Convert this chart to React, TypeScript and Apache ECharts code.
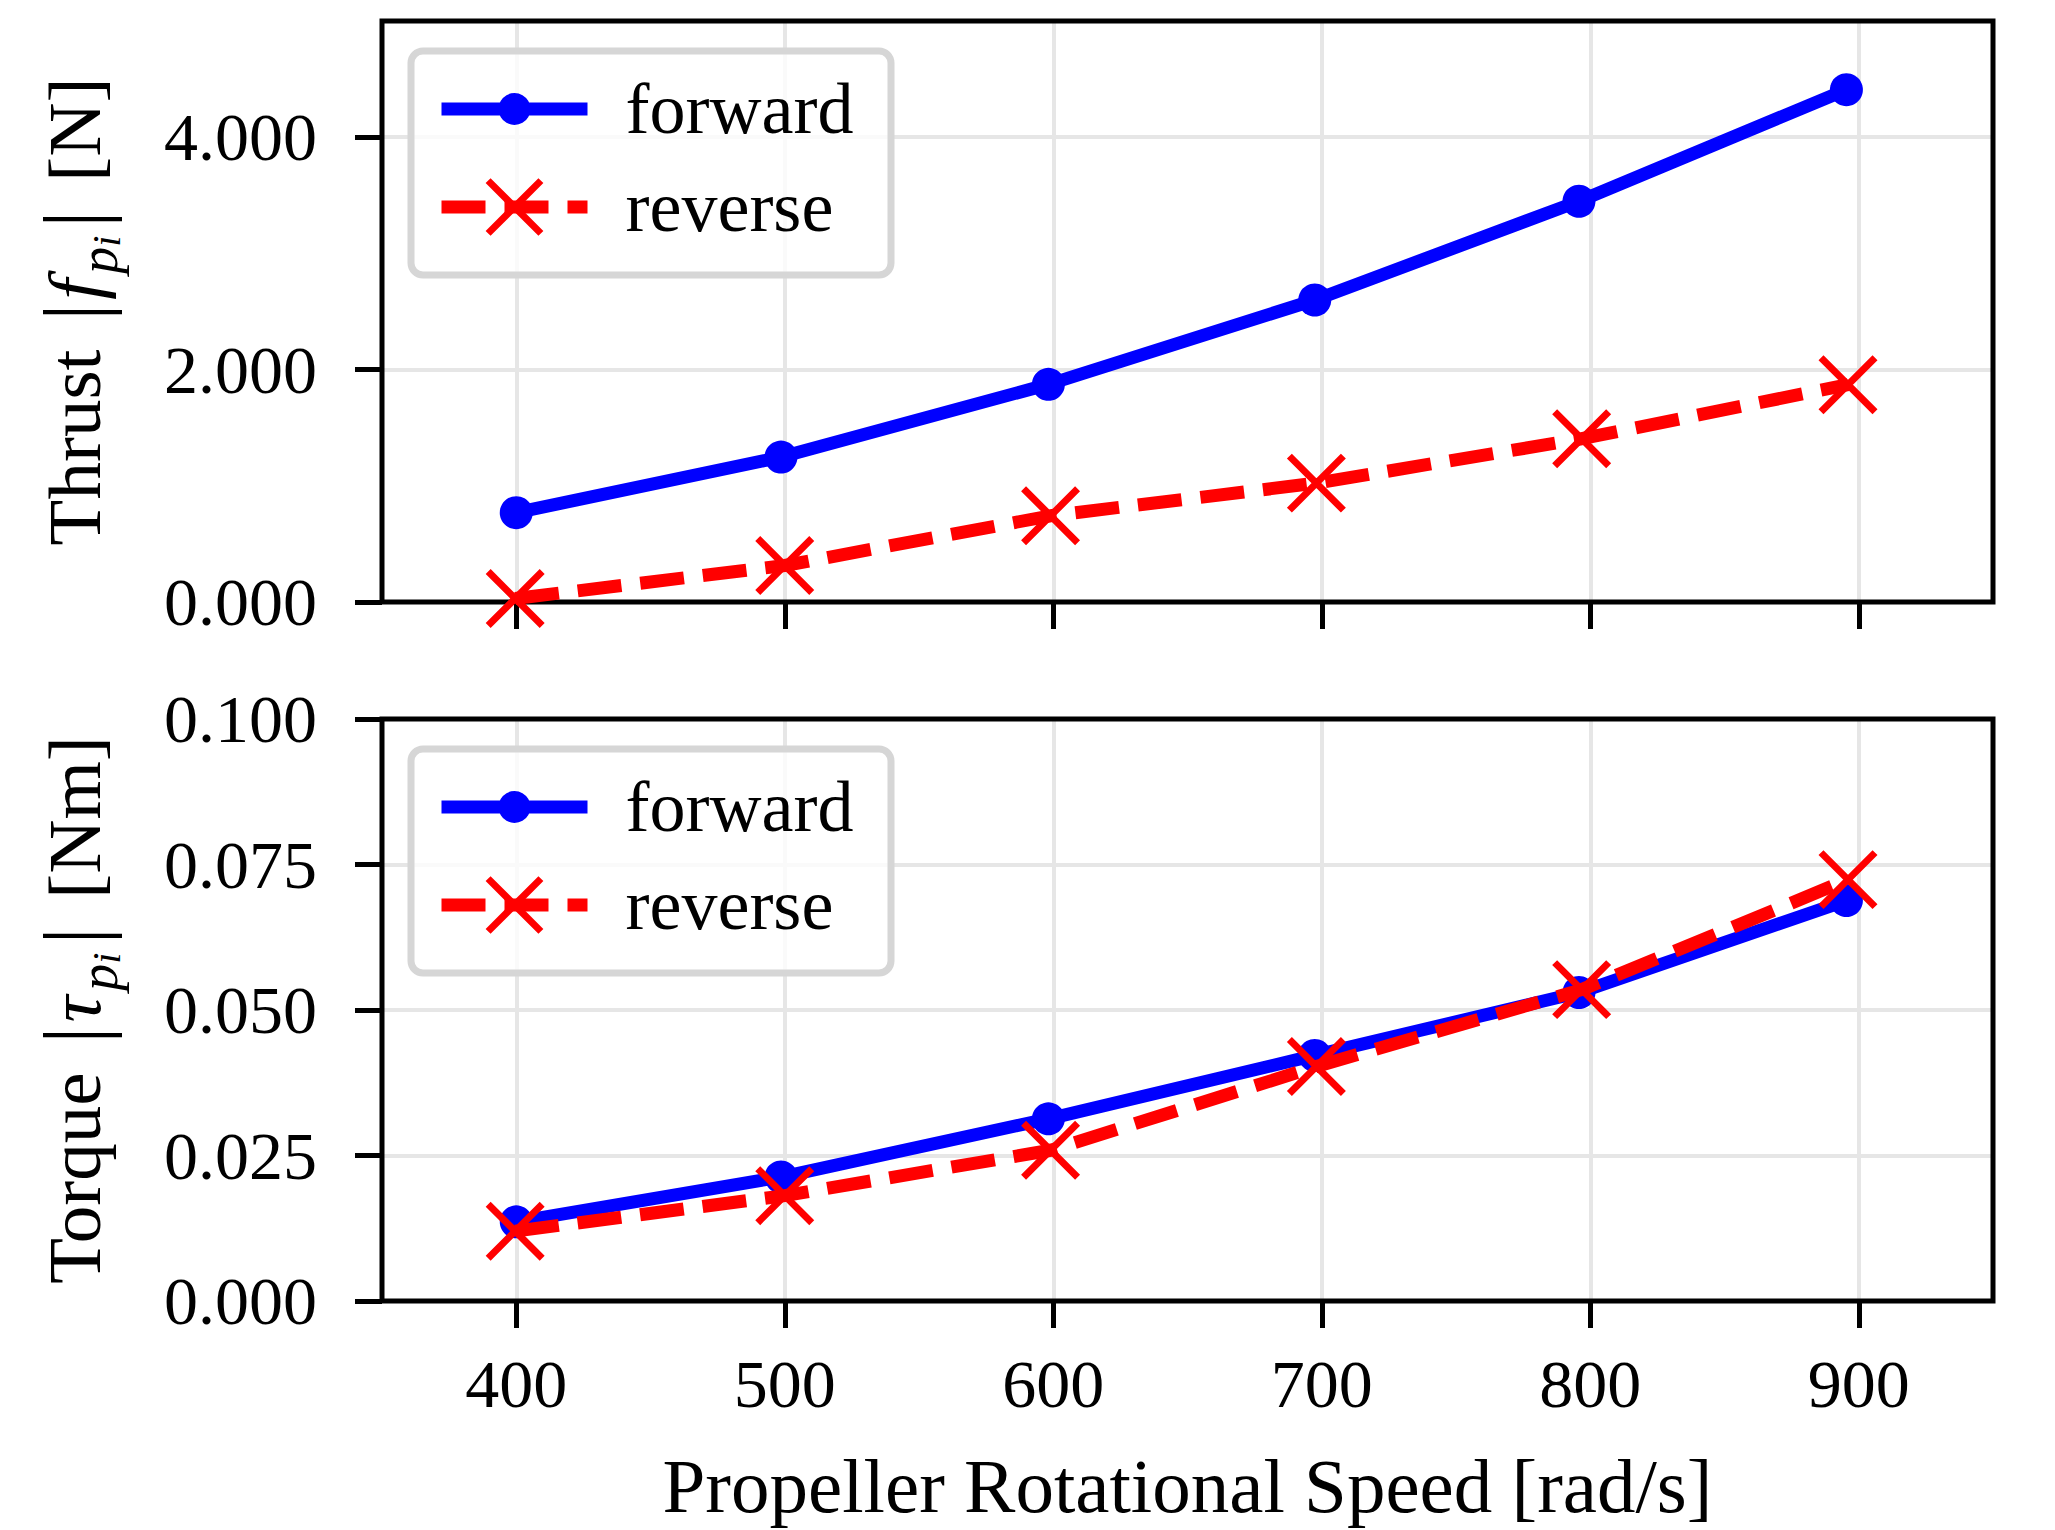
import React, { useEffect, useRef } from 'react';
import * as echarts from 'echarts';

const FONT = '"Liberation Serif", "Times New Roman", serif';

// Propeller rotational speed [rad/s] of each measured point
const forwardSpeed = [400.0, 498.6, 598.2, 697.4, 795.8, 895.4];
const reverseSpeed = [399.6, 500.0, 599.0, 698.0, 796.8, 896.0];
// Thrust |f_pi| [N]
const thrustForward = [0.769, 1.247, 1.873, 2.599, 3.449, 4.409];
const thrustReverse = [0.03, 0.314, 0.742, 1.023, 1.405, 1.87];
// Torque |tau_pi| [Nm]
const torqueForward = [0.0136, 0.0213, 0.0313, 0.0422, 0.053, 0.0688];
const torqueReverse = [0.012, 0.0181, 0.0259, 0.0403, 0.0535, 0.0724];
// Ticks
const speedTicks = [400, 500, 600, 700, 800, 900];
const thrustTicks = [0, 2, 4];
const torqueTicks = [0, 0.025, 0.05, 0.075, 0.1];
const seriesNames = ['forward', 'reverse'];

const BLUE = '#0000ff';
const RED = '#ff0000';
const X_SYMBOL = 'path://M0,0L10,10M10,0L0,10';
const LINE_W = 13;
const DASH = [44, 19];

const zip = (xs: number[], ys: number[]) => xs.map((x, i) => [x, ys[i]]);

const NAME_FS = 75;
const nameRich = {
  a: { fontFamily: FONT, fontSize: NAME_FS, lineHeight: 104, verticalAlign: 'middle', color: '#000' },
  v: { fontFamily: FONT, fontSize: 86, lineHeight: 104, verticalAlign: 'middle', color: '#000', padding: [0, 4, 0, 10] },
  w: { fontFamily: FONT, fontSize: 86, lineHeight: 104, verticalAlign: 'middle', color: '#000', padding: [0, 10, 0, 8] },
  b: { fontFamily: FONT, fontSize: NAME_FS, lineHeight: 104, verticalAlign: 'middle', fontStyle: 'italic', color: '#000' },
  c: { fontFamily: FONT, fontSize: 54, lineHeight: 62, verticalAlign: 'bottom', fontStyle: 'italic', color: '#000', padding: [0, 0, 0, 5] },
  d: { fontFamily: FONT, fontSize: 40, lineHeight: 48, verticalAlign: 'bottom', fontStyle: 'italic', color: '#000' },
};

function makeXAxis(gridIndex: number, showLabels: boolean) {
  return {
    type: 'value',
    gridIndex,
    min: 350,
    max: 950,
    axisLine: { show: false, onZero: false },
    axisTick: {
      show: true,
      customValues: speedTicks,
      length: 27,
      lineStyle: { color: '#000', width: 5 },
    },
    axisLabel: {
      show: showLabels,
      customValues: speedTicks,
      margin: 49,
      fontFamily: FONT,
      fontSize: 68,
      lineHeight: 68,
      color: '#000',
    },
    splitLine: { show: true, lineStyle: { color: '#e6e6e6', width: 4 } },
    name: showLabels ? 'Propeller Rotational Speed [rad/s]' : '',
    nameLocation: 'middle',
    nameGap: 146,
    nameTextStyle: { fontFamily: FONT, fontSize: 77, lineHeight: 77, color: '#000' },
  };
}

function makeYAxis(gridIndex: number, max: number, interval: number, ticks: number[], name: string) {
  return {
    type: 'value',
    gridIndex,
    min: 0,
    max,
    interval,
    axisLine: { show: false },
    axisTick: {
      show: true,
      customValues: ticks,
      length: 27,
      lineStyle: { color: '#000', width: 5 },
    },
    axisLabel: {
      customValues: ticks,
      margin: 65,
      fontFamily: FONT,
      fontSize: 68,
      color: '#000',
      formatter: (v: number) => v.toFixed(3),
    },
    splitLine: { show: true, lineStyle: { color: '#e6e6e6', width: 4 } },
    name,
    nameLocation: 'middle',
    nameRotate: 90,
    nameGap: 256,
    nameTextStyle: { fontFamily: FONT, fontSize: NAME_FS, color: '#000', rich: nameRich },
  };
}

function makeSeries(idx: number, speeds: number[], values: number[], name: string) {
  const forward = name === 'forward';
  return {
    type: 'line',
    name,
    xAxisIndex: idx,
    yAxisIndex: idx,
    data: zip(speeds, values),
    z: forward ? 2 : 3,
    symbol: forward ? 'circle' : X_SYMBOL,
    symbolSize: forward ? 33 : 54,
    lineStyle: forward
      ? { color: BLUE, width: LINE_W }
      : { color: RED, width: LINE_W, type: DASH },
    itemStyle: forward
      ? { color: BLUE, borderWidth: 0 }
      : { color: RED, borderColor: RED, borderWidth: 7 },
    emphasis: { disabled: true },
    clip: true,
  };
}

function makeLegend(name: string, centerY: number) {
  const forward = name === 'forward';
  const h = forward ? 40 : 66;
  return {
    data: [name],
    left: 435,
    top: centerY - 37,
    padding: 0,
    itemWidth: 146,
    itemHeight: h,
    selectedMode: false,
    z: 6,
    lineStyle: forward
      ? { color: BLUE, width: LINE_W, type: 'solid' }
      : { color: RED, width: LINE_W, type: DASH },
    itemStyle: forward
      ? { color: BLUE, borderWidth: 0 }
      : { color: RED, borderColor: RED, borderWidth: 7 },
    textStyle: { fontFamily: FONT, fontSize: 72, color: '#000', padding: [0, 0, 0, 33] },
  };
}

function legendFrame(y: number) {
  return {
    type: 'rect',
    z: 4,
    silent: true,
    shape: { x: 411, y, width: 480, height: 224, r: 12 },
    style: { fill: 'rgba(255,255,255,0.8)', stroke: '#d6d6d6', lineWidth: 7 },
  };
}

const option = {
  animation: false,
  backgroundColor: '#ffffff',
  grid: [
    { left: 382, top: 21, width: 1611, height: 581, show: true, borderColor: '#000', borderWidth: 5, backgroundColor: 'transparent', z: 1 },
    { left: 382, top: 719, width: 1611, height: 582, show: true, borderColor: '#000', borderWidth: 5, backgroundColor: 'transparent', z: 1 },
  ],
  xAxis: [makeXAxis(0, false), makeXAxis(1, true)],
  yAxis: [
    makeYAxis(0, 5, 2, thrustTicks, '{a|Thrust }{v||}{b|f}{c|p}{d|i}{w||}{a| [N]}'),
    makeYAxis(1, 0.1, 0.025, torqueTicks, '{a|Torque }{v||}{b|τ}{c|p}{d|i}{w||}{a| [Nm]}'),
  ],
  legend: [
    makeLegend(seriesNames[0], 110),
    makeLegend(seriesNames[1], 208),
    makeLegend(seriesNames[0], 808),
    makeLegend(seriesNames[1], 906),
  ],
  graphic: [legendFrame(51), legendFrame(749)],
  series: [
    makeSeries(0, forwardSpeed, thrustForward, seriesNames[0]),
    makeSeries(0, reverseSpeed, thrustReverse, seriesNames[1]),
    makeSeries(1, forwardSpeed, torqueForward, seriesNames[0]),
    makeSeries(1, reverseSpeed, torqueReverse, seriesNames[1]),
  ],
};

export default function App() {
  const ref = useRef<HTMLDivElement>(null);
  useEffect(() => {
    document.body.style.margin = '0';
    document.body.style.overflow = 'hidden';
    const chart = echarts.init(ref.current!, null, { renderer: 'svg' });
    chart.setOption(option as any);
    return () => chart.dispose();
  }, []);
  return (
    <div
      ref={ref}
      style={{ position: 'absolute', left: 0, top: 0, width: 2055, height: 1530, background: '#fff' }}
    />
  );
}
